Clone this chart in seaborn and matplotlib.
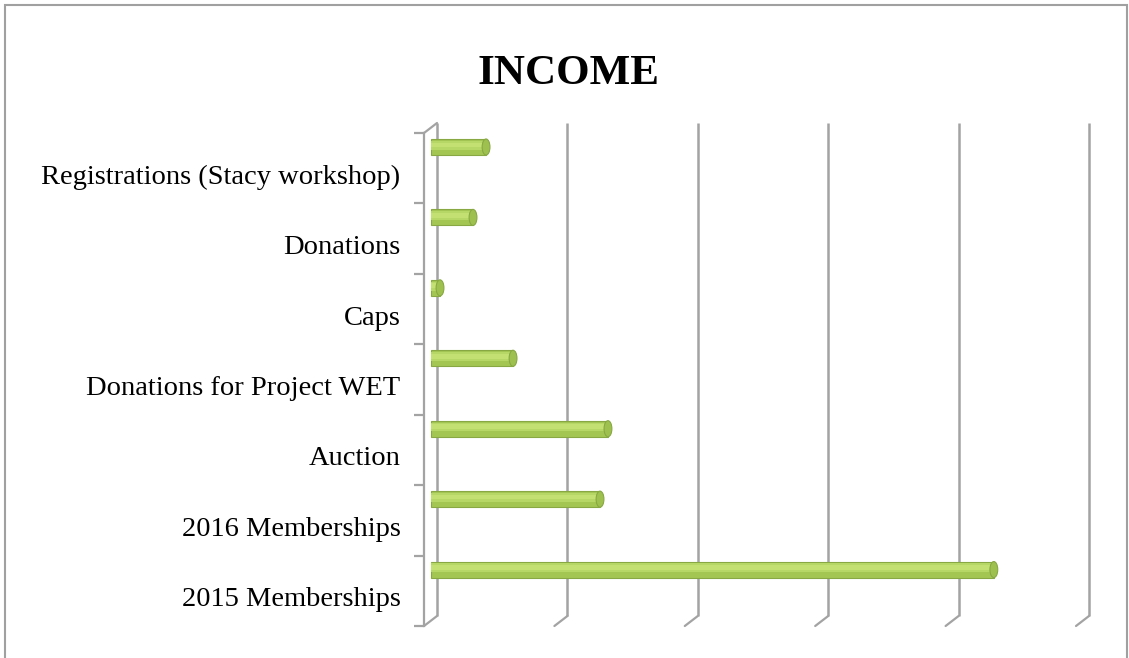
import numpy as np
import pandas as pd
import matplotlib
matplotlib.use("Agg")
import matplotlib.pyplot as plt
import seaborn as sns
from matplotlib.transforms import offset_copy, ScaledTranslation
from matplotlib.patches import ConnectionPatch, Rectangle, Ellipse

# income sources, top to bottom as in the chart
categories = [
    "Registrations (Stacy workshop)",
    "Donations",
    "Caps",
    "Donations for Project WET",
    "Auction",
    "2016 Memberships",
    "2015 Memberships",
]
income = [426, 326, 73, 633, 1361, 1300, 4320]
grid_values = [0, 1000, 2000, 3000, 4000, 5000]

df = pd.DataFrame({"source": categories, "income": income})

sns.set_style("white")
plt.rcParams["font.family"] = ["Liberation Serif", "DejaVu Serif"]

grey = "#A3A3A3"

fig = plt.figure(figsize=(11.29, 6.58), dpi=100)
# axes = front plane of the fake 3d box
ax = fig.add_axes([424 / 1129, 32 / 658, 652 / 1129, 493 / 658])

sns.barplot(data=df, x="income", y="source", orient="h", width=0.228,
            color="#A3C653", saturation=1, edgecolor="#88A843", linewidth=0.8,
            ax=ax, zorder=3)

ax.set_xlim(0, 5000)
ax.set_ylim(6.5, -0.5)

# back plane and the middle plane where the bars sit
back = offset_copy(ax.transData, fig=fig, x=13, y=10, units="dots")
mid = offset_copy(ax.transData, fig=fig, x=6.5, y=5, units="dots")

# bars: move up in the band, add soft highlight and rounded end
for p in ax.patches:
    p.set_y(p.get_y() - 0.23)
    p.set_transform(mid)
    x0, y0, w, h = p.get_x(), p.get_y(), p.get_width(), p.get_height()
    hl = Rectangle((x0, y0 + h * 0.12), w, h * 0.55, facecolor="#B6D766",
                   edgecolor="none", transform=mid, zorder=4)
    ax.add_patch(hl)
    hl2 = Rectangle((x0, y0 + h * 0.22), w, h * 0.3, facecolor="#C2E172",
                    edgecolor="none", transform=mid, zorder=4)
    ax.add_patch(hl2)
    cap = Ellipse((x0 + w, y0 + h / 2), 60, h, facecolor="#9DC04E",
                  edgecolor="#88A843", lw=0.8, transform=mid, zorder=5)
    ax.add_patch(cap)

# back wall gridlines
ax.vlines(grid_values, -0.5, 6.5, transform=back, colors=grey, lw=1.8,
          clip_on=False, zorder=1)
# floor edges
for v in grid_values:
    con = ConnectionPatch(xyA=(v, 6.5), coordsA=back, xyB=(v, 6.5),
                          coordsB=ax.transData, color=grey, lw=1.6)
    ax.add_artist(con)
# top left edge of side wall
ax.add_artist(ConnectionPatch(xyA=(0, -0.5), coordsA=back, xyB=(0, -0.5),
                              coordsB=ax.transData, color=grey, lw=1.6))

for s in ["top", "right", "bottom"]:
    ax.spines[s].set_visible(False)
ax.spines["left"].set_color(grey)
ax.spines["left"].set_linewidth(1.6)

ax.set_xticks([])
ax.set_yticks(np.arange(-0.5, 7, 1), minor=True)
ax.tick_params(axis="y", which="minor", length=7.2, width=1.6, color=grey, left=True)
ax.tick_params(axis="y", which="major", length=0, pad=17, labelsize=20.5, labelcolor="black")
ax.set_xlabel("")
ax.set_ylabel("")
shift = ScaledTranslation(0, -6 / 100, fig.dpi_scale_trans)
for lab in ax.get_yticklabels():
    lab.set_transform(lab.get_transform() + shift)

fig.text(0.5036, 0.888, "INCOME", ha="center", va="center", fontsize=31,
         fontweight="bold", color="black")

# chart border
fig.add_artist(Rectangle((5 / 1129, -0.05), 1122 / 1129, 1.05 - 5 / 658,
                         transform=fig.transFigure, fill=False,
                         edgecolor="#A0A0A0", lw=1.5))

fig.savefig("out.png", dpi=100)
